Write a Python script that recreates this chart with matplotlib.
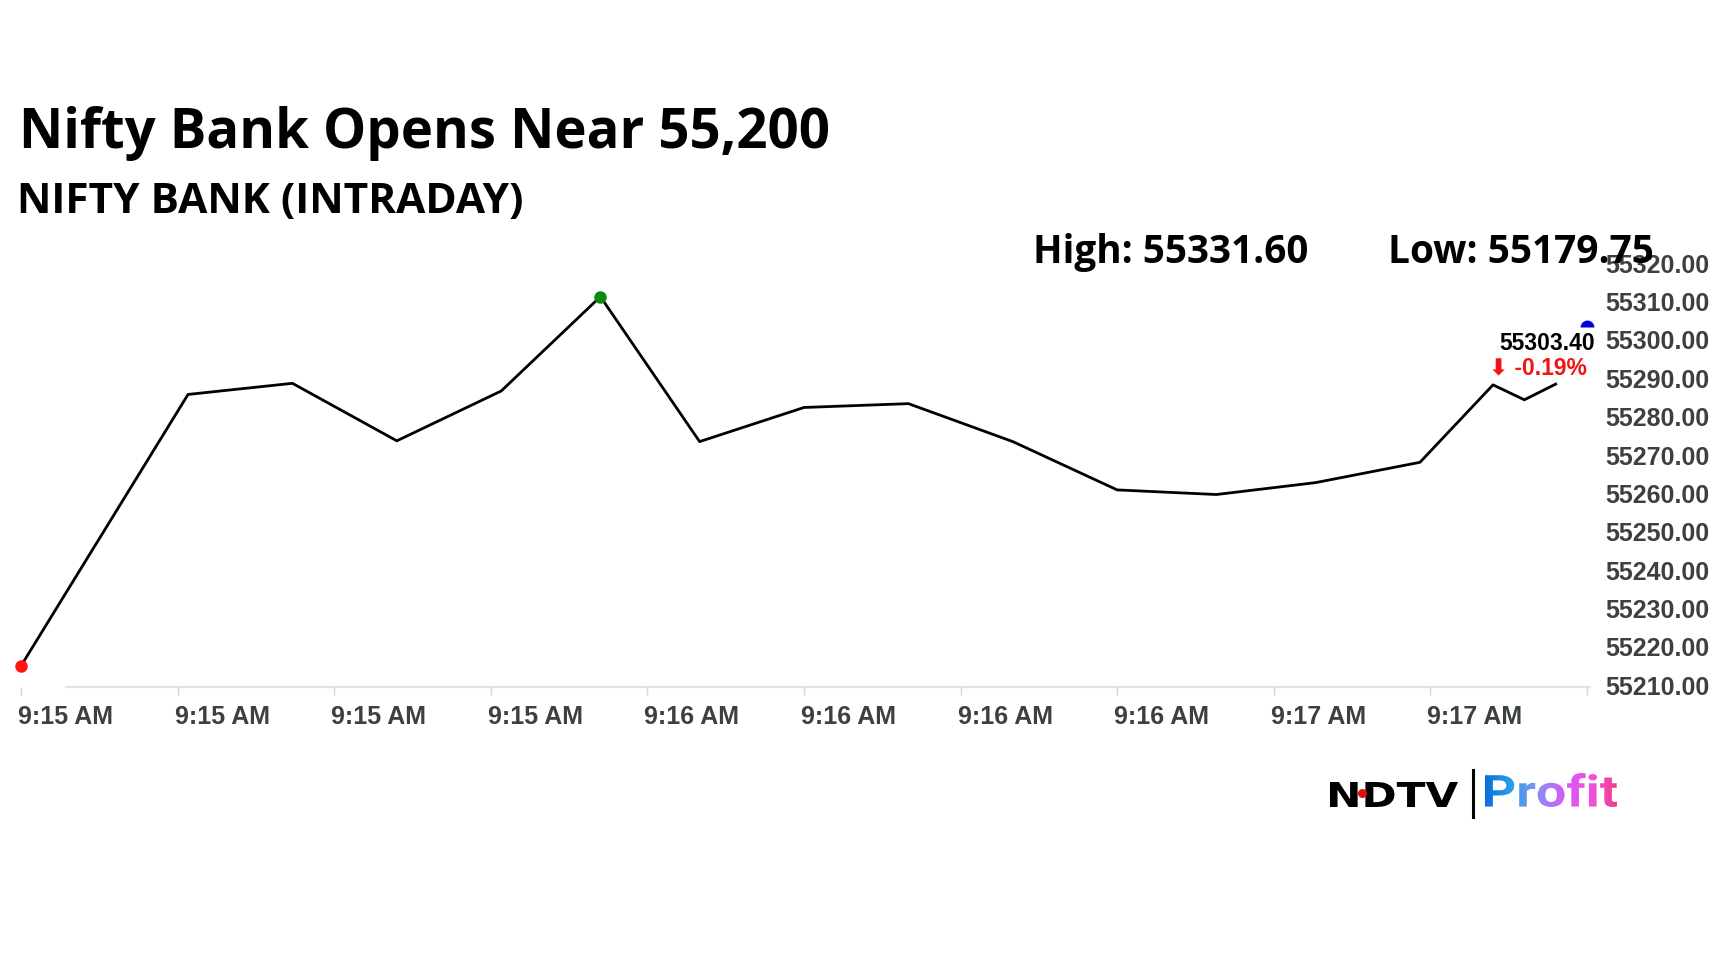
import matplotlib
matplotlib.use('Agg')

import matplotlib.pyplot as plt
from matplotlib.textpath import TextPath
from matplotlib.patches import PathPatch
from matplotlib.font_manager import FontProperties
from matplotlib.transforms import Affine2D, ScaledTranslation
from matplotlib.colors import LinearSegmentedColormap
import numpy as np

# DATI intraday (secondi dopo le 9:15:00)
secondi = [0, 16, 26, 36, 46, 55.5, 65, 75, 85, 95, 105, 114.5, 124, 134, 141, 144, 147]
prezzi = [55215.0, 55285.8, 55288.7, 55273.7, 55286.7, 55311.3, 55273.5, 55282.4,
          55283.4, 55273.5, 55260.9, 55259.7, 55262.8, 55268.1, 55288.3, 55284.4, 55288.5]
ultimoSecondo = 150
ultimoPrezzo = 55303.40
variazione = '-0.19%'
massimo = '55331.60'
minimo = '55179.75'

tickSecondi = [0, 15, 30, 45, 60, 75, 90, 105, 120, 135, 150]
tickEtichette = ['9:15 AM', '9:15 AM', '9:15 AM', '9:15 AM', '9:16 AM', '9:16 AM',
                 '9:16 AM', '9:16 AM', '9:17 AM', '9:17 AM', '']
tickPrezzi = [55210, 55220, 55230, 55240, 55250, 55260, 55270, 55280, 55290, 55300, 55310, 55320]

W, H = 1728, 972
GRIGIO = '#3c4043'


def px(x0, y0, x1, y1):
    # rettangolo in pixel (origine in alto a sinistra) -> frazioni della figura
    return [x0 / W, 1 - y1 / H, (x1 - x0) / W, (y1 - y0) / H]


fig = plt.figure(figsize=(W / 100, H / 100), dpi=100)
fig.patch.set_facecolor('white')
renderer = fig.canvas.get_renderer()

# GRAFICO A LINEA
ax = fig.add_axes(px(21, 263.3, 1587, 687))
ax.plot(secondi, prezzi, color='black', lw=2, zorder=2)
ax.plot(secondi[0], prezzi[0], 'o', color='#ff1414', ms=8, clip_on=False, zorder=3)
iMax = int(np.argmax(prezzi))
ax.plot(secondi[iMax], prezzi[iMax], 'o', color='#0b8a0b', ms=8, clip_on=False, zorder=3)
ax.plot(ultimoSecondo, ultimoPrezzo, marker='o', ms=10, fillstyle='top',
        markerfacecolor='#0000dd', markerfacecoloralt='none', markeredgecolor='none',
        clip_on=False, zorder=3)

ax.annotate(f'{ultimoPrezzo:.2f}', (ultimoSecondo, ultimoPrezzo), xytext=(6, -12),
            textcoords='offset points', ha='right', va='center', fontsize=16.5,
            fontweight='bold', family='Liberation Sans', color='black')
ax.annotate('\u2b07 ' + variazione, (ultimoSecondo, ultimoPrezzo), xytext=(0, -29.5),
            textcoords='offset points', ha='right', va='center', fontsize=16.5,
            fontweight='bold', family=['Liberation Sans', 'DejaVu Sans'], color='#f01414')

ax.set_xlim(0, 150)
ax.set_ylim(55209.5, 55320)
for s in ax.spines.values():
    s.set_visible(False)
ax.axhline(55209.5, xmin=45 / 1566, xmax=1.002, color='#e2e2e2', lw=1.5, clip_on=False, zorder=1)

ax.set_xticks(tickSecondi, tickEtichette)
ax.tick_params(axis='x', length=6, width=1, color='#d4d4d4', pad=7, labelsize=18,
               labelcolor=GRIGIO)
sposta = ScaledTranslation(-3 / 100, 0, fig.dpi_scale_trans)
for lab in ax.get_xticklabels():
    lab.set_ha('left')
    lab.set_fontweight('bold')
    lab.set_family('Liberation Sans')
    lab.set_transform(lab.get_transform() + sposta)

ax.yaxis.tick_right()
ax.set_yticks(tickPrezzi)
ax.yaxis.set_major_formatter(plt.FuncFormatter(lambda v, p: f'{v:.2f}'))
ax.tick_params(axis='y', length=0, pad=13, labelsize=18, labelcolor=GRIGIO)
for lab in ax.get_yticklabels():
    lab.set_fontweight('bold')
    lab.set_family('Liberation Sans')


# TITOLI (dimensione scelta per avere la stessa larghezza del riferimento)
def testo(x, y, s, larghezza, famiglia, **kw):
    t = fig.text(x / W, 1 - y / H, s, family=famiglia, fontweight='bold', fontsize=30,
                 va='baseline', ha='left', **kw)
    w = t.get_window_extent(renderer).width
    t.set_fontsize(30 * larghezza / w)
    return t


testo(19, 148, 'Nifty Bank Opens Near 55,200', 812, 'Open Sans')
testo(17, 212.7, 'NIFTY BANK (INTRADAY)', 506, 'Open Sans')
testo(1033, 263.3, 'High: ' + massimo, 275, 'Open Sans')
testo(1388, 263.3, 'Low: ' + minimo, 267, 'Open Sans', zorder=0)

# LOGO NDTV | Profit
lax = fig.add_axes(px(1320, 760, 1630, 825))
lax.axis('off')


def adatta(s, font, x0, y0, x1, y1):
    p = TextPath((0, 0), s, size=100, prop=font)
    bb = p.get_extents()
    tr = Affine2D().translate(-bb.x0, -bb.y1).scale((x1 - x0) / bb.width,
                                                     -(y1 - y0) / bb.height).translate(x0, y0)
    return tr.transform_path(p)


ndtv = adatta('NDTV', FontProperties(family='DejaVu Sans', weight='bold'), 1330, 782, 1458, 807)
lax.add_patch(PathPatch(ndtv, fc='black', ec='none'))
lax.plot(1362, 793, 'o', color='#e01010', ms=5.5)
lax.plot([1472.5, 1472.5], [770, 817], color='black', lw=2.2)

profit = adatta('Profit', FontProperties(family='Roboto', weight='bold'), 1485, 773, 1617, 807)
patch = PathPatch(profit, fc='none', ec='none')
lax.add_patch(patch)
grad = np.linspace(0, 1, 256).reshape(1, -1)
cmap = LinearSegmentedColormap.from_list('profit', ['#0a6fd8', '#2aa0e8', '#8a8ef5',
                                                   '#d25cf5', '#f050e0', '#f03f8a'])
im = lax.imshow(grad, extent=[1485, 1617, 807, 773], aspect='auto', cmap=cmap)
im.set_clip_path(patch)

lax.set_xlim(1320, 1630)
lax.set_ylim(825, 760)

fig.savefig('out.png', dpi=100, facecolor='white')
